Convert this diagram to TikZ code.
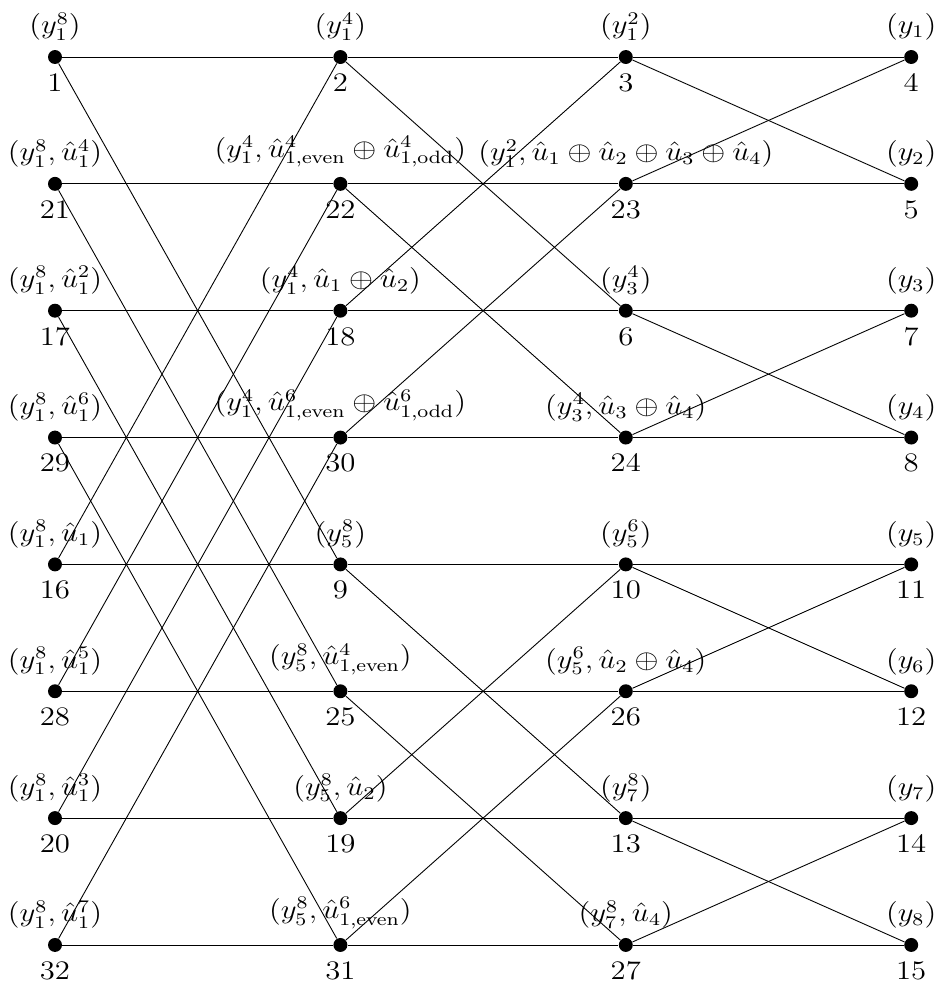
\documentclass[tikz,border=0pt]{standalone}
\usepackage{amsmath,amssymb}
\usepackage{tikz}

\begin{document}
\begin{tikzpicture}[
  dot/.style={circle,fill=black,inner sep=0pt,minimum size=2.2mm},
  lbl/.style={label distance=0.5pt,font=\fontsize{11.5}{13}\selectfont,xscale=1.15,transform shape},
  num/.style={label distance=0.8pt,font=\fontsize{11.5}{13}\selectfont,xscale=1.15,transform shape},
  wire/.style={draw=black,thin}
]
\useasboundingbox (-0.867,0.899) rectangle (13.94,-14.60);
% column 1
\node[dot,label={[lbl]above:$(y_1^8)$},label={[num]below:$1$}] (n1) at (0,0) {};
\node[dot,label={[lbl]above:$(y_1^8, \hat{u}_1^4)$},label={[num]below:$21$}] (n21) at (0,-2) {};
\node[dot,label={[lbl]above:$(y_1^8, \hat{u}_1^2)$},label={[num]below:$17$}] (n17) at (0,-4) {};
\node[dot,label={[lbl]above:$(y_1^8, \hat{u}_1^6)$},label={[num]below:$29$}] (n29) at (0,-6) {};
\node[dot,label={[lbl]above:$(y_1^8, \hat{u}_1)$},label={[num]below:$16$}] (n16) at (0,-8) {};
\node[dot,label={[lbl]above:$(y_1^8, \hat{u}_1^5)$},label={[num]below:$28$}] (n28) at (0,-10) {};
\node[dot,label={[lbl]above:$(y_1^8, \hat{u}_1^3)$},label={[num]below:$20$}] (n20) at (0,-12) {};
\node[dot,label={[lbl]above:$(y_1^8, \hat{u}_1^7)$},label={[num]below:$32$}] (n32) at (0,-14) {};
% column 2
\node[dot,label={[lbl]above:$(y_1^4)$},label={[num]below:$2$}] (n2) at (4.5,0) {};
\node[dot,label={[lbl]above:$(y_1^4, \hat{u}_{1,\mathrm{even}}^4 \oplus \hat{u}_{1,\mathrm{odd}}^4)$},label={[num]below:$22$}] (n22) at (4.5,-2) {};
\node[dot,label={[lbl]above:$(y_1^4, \hat{u}_1 \oplus \hat{u}_2)$},label={[num]below:$18$}] (n18) at (4.5,-4) {};
\node[dot,label={[lbl]above:$(y_1^4, \hat{u}_{1,\mathrm{even}}^6 \oplus \hat{u}_{1,\mathrm{odd}}^6)$},label={[num]below:$30$}] (n30) at (4.5,-6) {};
\node[dot,label={[lbl]above:$(y_5^8)$},label={[num]below:$9$}] (n9) at (4.5,-8) {};
\node[dot,label={[lbl]above:$(y_5^8, \hat{u}_{1,\mathrm{even}}^4)$},label={[num]below:$25$}] (n25) at (4.5,-10) {};
\node[dot,label={[lbl]above:$(y_5^8, \hat{u}_2)$},label={[num]below:$19$}] (n19) at (4.5,-12) {};
\node[dot,label={[lbl]above:$(y_5^8, \hat{u}_{1,\mathrm{even}}^6)$},label={[num]below:$31$}] (n31) at (4.5,-14) {};
% column 3
\node[dot,label={[lbl]above:$(y_1^2)$},label={[num]below:$3$}] (n3) at (9,0) {};
\node[dot,label={[lbl]above:$(y_1^2, \hat{u}_1 \oplus \hat{u}_2 \oplus \hat{u}_3 \oplus \hat{u}_4)$},label={[num]below:$23$}] (n23) at (9,-2) {};
\node[dot,label={[lbl]above:$(y_3^4)$},label={[num]below:$6$}] (n6) at (9,-4) {};
\node[dot,label={[lbl]above:$(y_3^4, \hat{u}_3 \oplus \hat{u}_4)$},label={[num]below:$24$}] (n24) at (9,-6) {};
\node[dot,label={[lbl]above:$(y_5^6)$},label={[num]below:$10$}] (n10) at (9,-8) {};
\node[dot,label={[lbl]above:$(y_5^6, \hat{u}_2 \oplus \hat{u}_4)$},label={[num]below:$26$}] (n26) at (9,-10) {};
\node[dot,label={[lbl]above:$(y_7^8)$},label={[num]below:$13$}] (n13) at (9,-12) {};
\node[dot,label={[lbl]above:$(y_7^8, \hat{u}_4)$},label={[num]below:$27$}] (n27) at (9,-14) {};
% column 4
\node[dot,label={[lbl]above:$(y_1)$},label={[num]below:$4$}] (n4) at (13.5,0) {};
\node[dot,label={[lbl]above:$(y_2)$},label={[num]below:$5$}] (n5) at (13.5,-2) {};
\node[dot,label={[lbl]above:$(y_3)$},label={[num]below:$7$}] (n7) at (13.5,-4) {};
\node[dot,label={[lbl]above:$(y_4)$},label={[num]below:$8$}] (n8) at (13.5,-6) {};
\node[dot,label={[lbl]above:$(y_5)$},label={[num]below:$11$}] (n11) at (13.5,-8) {};
\node[dot,label={[lbl]above:$(y_6)$},label={[num]below:$12$}] (n12) at (13.5,-10) {};
\node[dot,label={[lbl]above:$(y_7)$},label={[num]below:$14$}] (n14) at (13.5,-12) {};
\node[dot,label={[lbl]above:$(y_8)$},label={[num]below:$15$}] (n15) at (13.5,-14) {};
% rows
\draw[wire] (n1)--(n2)--(n3)--(n4);
\draw[wire] (n21)--(n22)--(n23)--(n5);
\draw[wire] (n17)--(n18)--(n6)--(n7);
\draw[wire] (n29)--(n30)--(n24)--(n8);
\draw[wire] (n16)--(n9)--(n10)--(n11);
\draw[wire] (n28)--(n25)--(n26)--(n12);
\draw[wire] (n20)--(n19)--(n13)--(n14);
\draw[wire] (n32)--(n31)--(n27)--(n15);
% stage 1
\draw[wire] (n1)--(n9);
\draw[wire] (n21)--(n25);
\draw[wire] (n17)--(n19);
\draw[wire] (n29)--(n31);
\draw[wire] (n16)--(n2);
\draw[wire] (n28)--(n22);
\draw[wire] (n20)--(n18);
\draw[wire] (n32)--(n30);
% stage 2
\draw[wire] (n2)--(n6);
\draw[wire] (n22)--(n24);
\draw[wire] (n18)--(n3);
\draw[wire] (n30)--(n23);
\draw[wire] (n9)--(n13);
\draw[wire] (n25)--(n27);
\draw[wire] (n19)--(n10);
\draw[wire] (n31)--(n26);
% stage 3
\draw[wire] (n3)--(n5);
\draw[wire] (n23)--(n4);
\draw[wire] (n6)--(n8);
\draw[wire] (n24)--(n7);
\draw[wire] (n10)--(n12);
\draw[wire] (n26)--(n11);
\draw[wire] (n13)--(n15);
\draw[wire] (n27)--(n14);
\end{tikzpicture}
\end{document}
